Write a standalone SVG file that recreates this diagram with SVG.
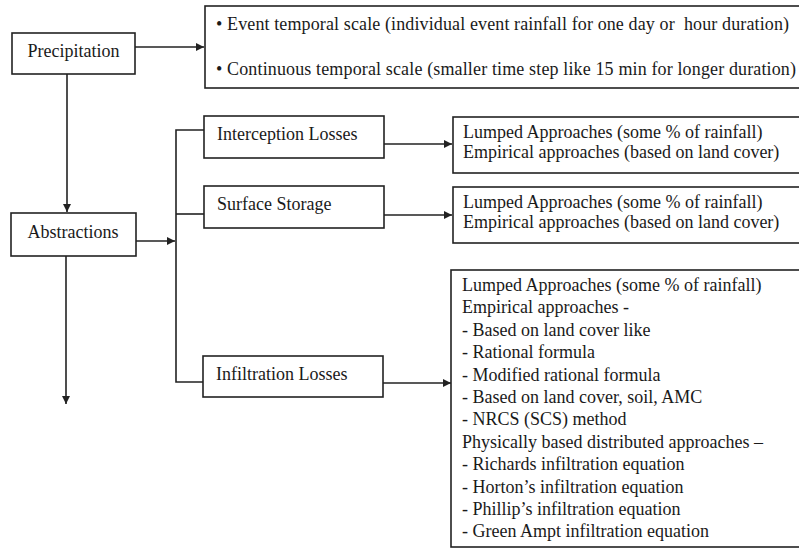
<svg xmlns="http://www.w3.org/2000/svg" width="799" height="553" viewBox="0 0 799 553">
<style>
.box{fill:#fff;stroke:#222;stroke-width:1.6}
.t{font-family:"Liberation Serif","Times New Roman",serif;font-size:18px;fill:#1a1a1a}
.c{fill:none;stroke:#222;stroke-width:1.6}
</style>
<defs>
<marker id="ah" viewBox="0 0 10 10" refX="10" refY="5" markerWidth="8" markerHeight="8" markerUnits="userSpaceOnUse" orient="auto">
<path d="M0,0 L10,5 L0,10 z" fill="#222"/>
</marker>
</defs>
<rect width="799" height="553" fill="#fff"/>
<g id="connectors">
<line class="c" x1="135" y1="47" x2="204" y2="47" marker-end="url(#ah)"/>
<line class="c" x1="67" y1="74" x2="67" y2="212" marker-end="url(#ah)"/>
<line class="c" x1="66" y1="256" x2="66" y2="404" marker-end="url(#ah)"/>
<line class="c" x1="136" y1="241" x2="175" y2="241" marker-end="url(#ah)"/>
<polyline class="c" points="204,130 176,130 176,382 203,382"/>
<line class="c" x1="176" y1="214" x2="204" y2="214"/>
<line class="c" x1="384" y1="144" x2="452" y2="144" marker-end="url(#ah)"/>
<line class="c" x1="384" y1="215" x2="452" y2="215" marker-end="url(#ah)"/>
<line class="c" x1="383" y1="383" x2="451" y2="383" marker-end="url(#ah)"/>
</g>
<g id="precipitation">
<rect class="box" x="12" y="33" width="123" height="41"/>
<text class="t" x="73.5" y="57" text-anchor="middle">Precipitation</text>
</g>
<g id="temporal">
<rect class="box" x="205" y="6" width="620" height="82"/>
<text class="t" x="216" y="30" xml:space="preserve" textLength="573" lengthAdjust="spacing">• Event temporal scale (individual event rainfall for one day or  hour duration)</text>
<text class="t" x="216" y="75" textLength="580" lengthAdjust="spacing">• Continuous temporal scale (smaller time step like 15 min for longer duration)</text>
</g>
<g id="abstractions">
<rect class="box" x="11" y="213" width="125" height="43"/>
<text class="t" x="73" y="238" text-anchor="middle">Abstractions</text>
</g>
<g id="interception">
<rect class="box" x="204" y="116" width="180" height="42"/>
<text class="t" x="217" y="140">Interception Losses</text>
</g>
<g id="surface">
<rect class="box" x="204" y="186" width="180" height="42"/>
<text class="t" x="217" y="210">Surface Storage</text>
</g>
<g id="infiltration">
<rect class="box" x="203" y="356" width="180" height="41"/>
<text class="t" x="216" y="380">Infiltration Losses</text>
</g>
<g id="interception-methods">
<rect class="box" x="453" y="117" width="380" height="56"/>
<text class="t" x="463" y="138">Lumped Approaches (some % of rainfall)</text>
<text class="t" x="463" y="158">Empirical approaches (based on land cover)</text>
</g>
<g id="surface-methods">
<rect class="box" x="453" y="187" width="380" height="56"/>
<text class="t" x="463" y="208">Lumped Approaches (some % of rainfall)</text>
<text class="t" x="463" y="228">Empirical approaches (based on land cover)</text>
</g>
<g id="infiltration-methods">
<rect class="box" x="451" y="270" width="380" height="277"/>
<text class="t" x="462" y="291">Lumped Approaches (some % of rainfall)</text>
<text class="t" x="462" y="313.4">Empirical approaches -</text>
<text class="t" x="462" y="335.8">- Based on land cover like</text>
<text class="t" x="462" y="358.2">- Rational formula</text>
<text class="t" x="462" y="380.6">- Modified rational formula</text>
<text class="t" x="462" y="403">- Based on land cover, soil, AMC</text>
<text class="t" x="462" y="425.4">- NRCS (SCS) method</text>
<text class="t" x="462" y="447.8">Physically based distributed approaches –</text>
<text class="t" x="462" y="470.2">- Richards infiltration equation</text>
<text class="t" x="462" y="492.6">- Horton’s infiltration equation</text>
<text class="t" x="462" y="515">- Phillip’s infiltration equation</text>
<text class="t" x="462" y="537.4">- Green Ampt infiltration equation</text>
</g>
</svg>
